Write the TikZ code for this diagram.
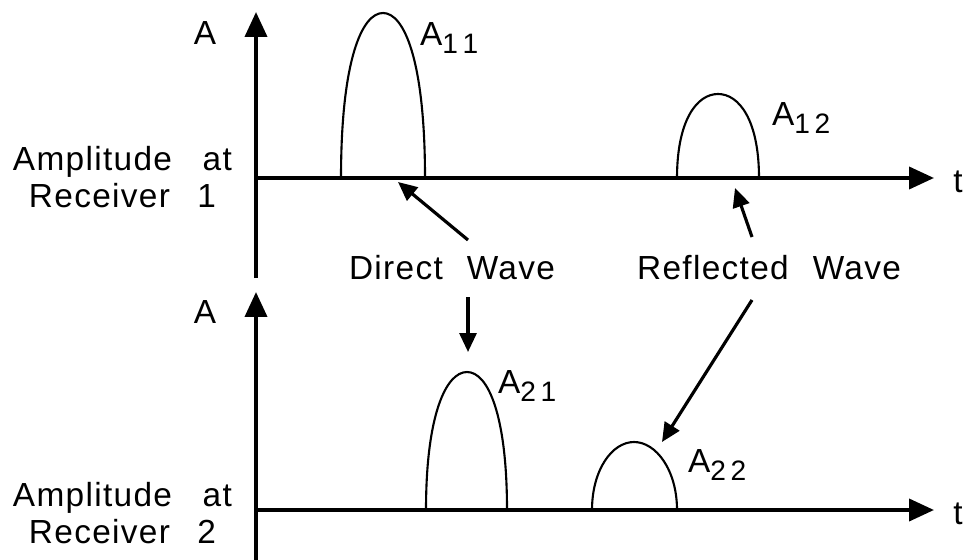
\documentclass[tikz,border=0pt]{standalone}
\usepackage{fontspec}
\setmainfont{Liberation Sans}[LetterSpace=4]
\usetikzlibrary{arrows.meta,positioning}

\newcommand{\subidx}[1]{\raisebox{-0.45ex}{\fontsize{16}{16}\selectfont #1}}

\begin{document}
\begin{tikzpicture}[
    x=0.02cm, y=-0.02cm,
    font=\fontsize{19}{21}\selectfont,
    axis/.style={line width=2.2pt, -{Triangle[length=5mm, width=4.4mm]}},
    pulse/.style={line width=1.2pt},
    point/.style={line width=1.8pt, -{Triangle[length=3.8mm, width=3.4mm]}},
    lbl/.style={inner sep=1pt, align=center}
  ]
    \useasboundingbox (0,0) rectangle (969,560);

    % axes, receiver 1
    \coordinate (o1) at (256,178);
    \draw[line width=2.2pt] (256,278) -- (o1);
    \draw[axis] (o1) -- (256,12);
    \draw[axis] (o1) -- (934,178);
    \node[lbl] (a1) at (205,33) {A};
    \node[lbl] (t1) at (958,182) {t};
    \node[lbl, anchor=east] (r1) at (234,177) {Amplitude\hspace{0.6em} at\\Receiver\hspace{0.5em} 1};

    % axes, receiver 2
    \coordinate (o2) at (256,510);
    \draw[line width=2.2pt] (256,560) -- (o2);
    \draw[axis] (o2) -- (256,292);
    \draw[axis] (o2) -- (934,510);
    \node[lbl] (a2) at (205,312) {A};
    \node[lbl] (t2) at (958,514) {t};
    \node[lbl, anchor=east] (r2) at (234,513) {Amplitude\hspace{0.6em} at\\Receiver\hspace{0.5em} 2};

    % pulses
    \draw[pulse] (341,178) .. controls (341,60) and (362,13) .. (383,13)
                           .. controls (404,13) and (425,60) .. (425,178);
    \draw[pulse] (677,178) .. controls (677,120) and (697,94) .. (718,94)
                           .. controls (739,94) and (759,120) .. (759,178);
    \draw[pulse] (426,510) .. controls (426,415) and (446,372) .. (467,372)
                           .. controls (488,372) and (507,415) .. (507,510);
    \draw[pulse] (592,510) .. controls (592,470) and (612,442) .. (634,442)
                           .. controls (656,442) and (677,470) .. (677,510);

    \node[lbl, anchor=west] (p11) at (418,38) {A\subidx{1\,1}};
    \node[lbl, anchor=west] (p12) at (770,118) {A\subidx{1\,2}};
    \node[lbl, anchor=west] (p21) at (496,386) {A\subidx{2\,1}};
    \node[lbl, anchor=west] (p22) at (686,465) {A\subidx{2\,2}};

    % wave labels and pointers
    \node[lbl] (direct) at (452,268) {Direct\hspace{0.4em} Wave};
    \node[lbl] (refl)   at (769,268) {Reflected\hspace{0.4em} Wave};

    \coordinate (d1) at (398,182);
    \coordinate (d2) at (468,352);
    \coordinate (f1) at (735,188);
    \coordinate (f2) at (662,442);

    \draw[point] (468,240) -- (d1);
    \draw[point] (468,297) -- (d2);
    \draw[point] (752,237) -- (f1);
    \draw[point] (752,300) -- (f2);
\end{tikzpicture}
\end{document}
